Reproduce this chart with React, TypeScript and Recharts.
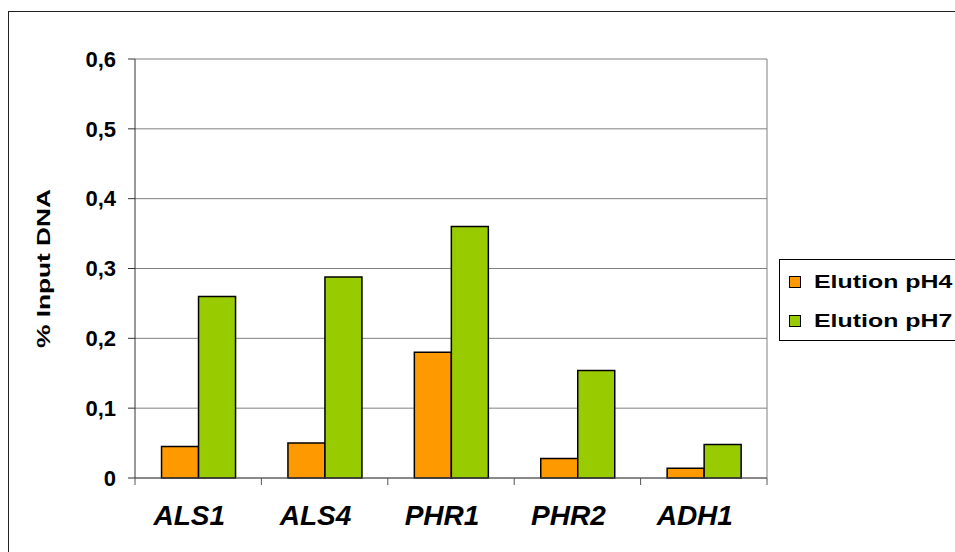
import React from "react";
import { BarChart, Bar, XAxis, YAxis, CartesianGrid, Label } from "recharts";

const genes = ["ALS1", "ALS4", "PHR1", "PHR2", "ADH1"];
const elutionPH4 = [0.045, 0.05, 0.18, 0.028, 0.014];
const elutionPH7 = [0.26, 0.288, 0.36, 0.154, 0.048];
const yTicks = [0, 0.1, 0.2, 0.3, 0.4, 0.5, 0.6];
const series = [
  { key: "ph4", name: "Elution pH4", color: "#FF9900" },
  { key: "ph7", name: "Elution pH7", color: "#99CC00" },
];

const data = genes.map((g, i) => ({ gene: g, ph4: elutionPH4[i], ph7: elutionPH7[i] }));

const fmt = (v: number) => (v === 0 ? "0" : v.toFixed(1).replace(".", ","));

// gene label plus tick marks on the category borders
const GeneTick = (props: any) => {
  const { x, y, payload, index, visibleTicksCount, width } = props;
  const half = payload.offset || width / (2 * genes.length);
  const last = index === visibleTicksCount - 1;
  return (
    <g>
      <line x1={x - half} y1={y} x2={x - half} y2={y + 7} stroke="#555" />
      {last && <line x1={x + half} y1={y} x2={x + half} y2={y + 7} stroke="#555" />}
      <text
        x={x - 9}
        y={y + 47}
        textAnchor="middle"
        fontSize={28}
        fontWeight="bold"
        fontStyle="italic"
        fill="#000"
      >
        {payload.value}
      </text>
    </g>
  );
};

const YLabel = (props: any) => {
  const vb = props.viewBox;
  const cx = vb.x + 13;
  const cy = vb.y + vb.height / 2;
  return (
    <text
      x={cx}
      y={cy}
      transform={`rotate(-90 ${cx} ${cy})`}
      textAnchor="middle"
      dominantBaseline="central"
      fontSize={19}
      fontWeight="bold"
      textLength={159}
      lengthAdjust="spacingAndGlyphs"
      fill="#000"
    >
      % Input DNA
    </text>
  );
};

export default function App() {
  return (
    <div
      style={{
        position: "fixed",
        left: 0,
        top: 0,
        width: 955,
        height: 552,
        overflow: "hidden",
        background: "#fff",
        fontFamily: "'Liberation Sans', Arial, sans-serif",
      }}
    >
      <div
        style={{
          position: "absolute",
          left: 8,
          top: 11,
          width: 1000,
          height: 600,
          border: "1px solid #222",
        }}
      />
      <div style={{ position: "absolute", left: 0, top: 0 }}>
        <BarChart
          width={955}
          height={552}
          data={data}
          margin={{ top: 59, right: 188, bottom: 14, left: 30 }}
          barCategoryGap="21%"
          barGap={0}
        >
          <CartesianGrid
            horizontal
            vertical
            stroke="#808080"
            verticalCoordinatesGenerator={({ offset }: any) => [offset.left + offset.width]}
          />
          <XAxis
            dataKey="gene"
            interval={0}
            tickLine={false}
            tickSize={0}
            tickMargin={0}
            height={60}
            axisLine={{ stroke: "#555" }}
            tick={<GeneTick />}
          />
          <YAxis
            width={105}
            domain={[0, 0.6]}
            ticks={yTicks}
            interval={0}
            tickFormatter={fmt}
            tickSize={7}
            tickMargin={12}
            axisLine={{ stroke: "#333" }}
            tickLine={{ stroke: "#333" }}
            tick={{ fontSize: 22, fontWeight: "bold", fill: "#000" }}
          >
            <Label content={<YLabel />} />
          </YAxis>
          {series.map((s) => (
            <Bar
              key={s.key}
              dataKey={s.key}
              name={s.name}
              fill={s.color}
              stroke="#000"
              strokeWidth={1.5}
              isAnimationActive={false}
            />
          ))}
        </BarChart>
      </div>
      <div
        style={{
          position: "absolute",
          left: 779,
          top: 259,
          width: 220,
          height: 82,
          border: "1px solid #000",
          paddingTop: 2,
          boxSizing: "border-box",
        }}
      >
        {series.map((s) => (
          <div
            key={s.key}
            style={{ height: 39, display: "flex", alignItems: "center", paddingLeft: 9 }}
          >
            <span
              style={{
                width: 10,
                height: 10,
                background: s.color,
                border: "1px solid #000",
                display: "inline-block",
                marginRight: 13,
              }}
            />
            <span
              style={{
                fontSize: 19,
                fontWeight: "bold",
                display: "inline-block",
                transform: "scaleX(1.31)",
                transformOrigin: "left center",
                whiteSpace: "nowrap",
              }}
            >
              {s.name}
            </span>
          </div>
        ))}
      </div>
    </div>
  );
}
